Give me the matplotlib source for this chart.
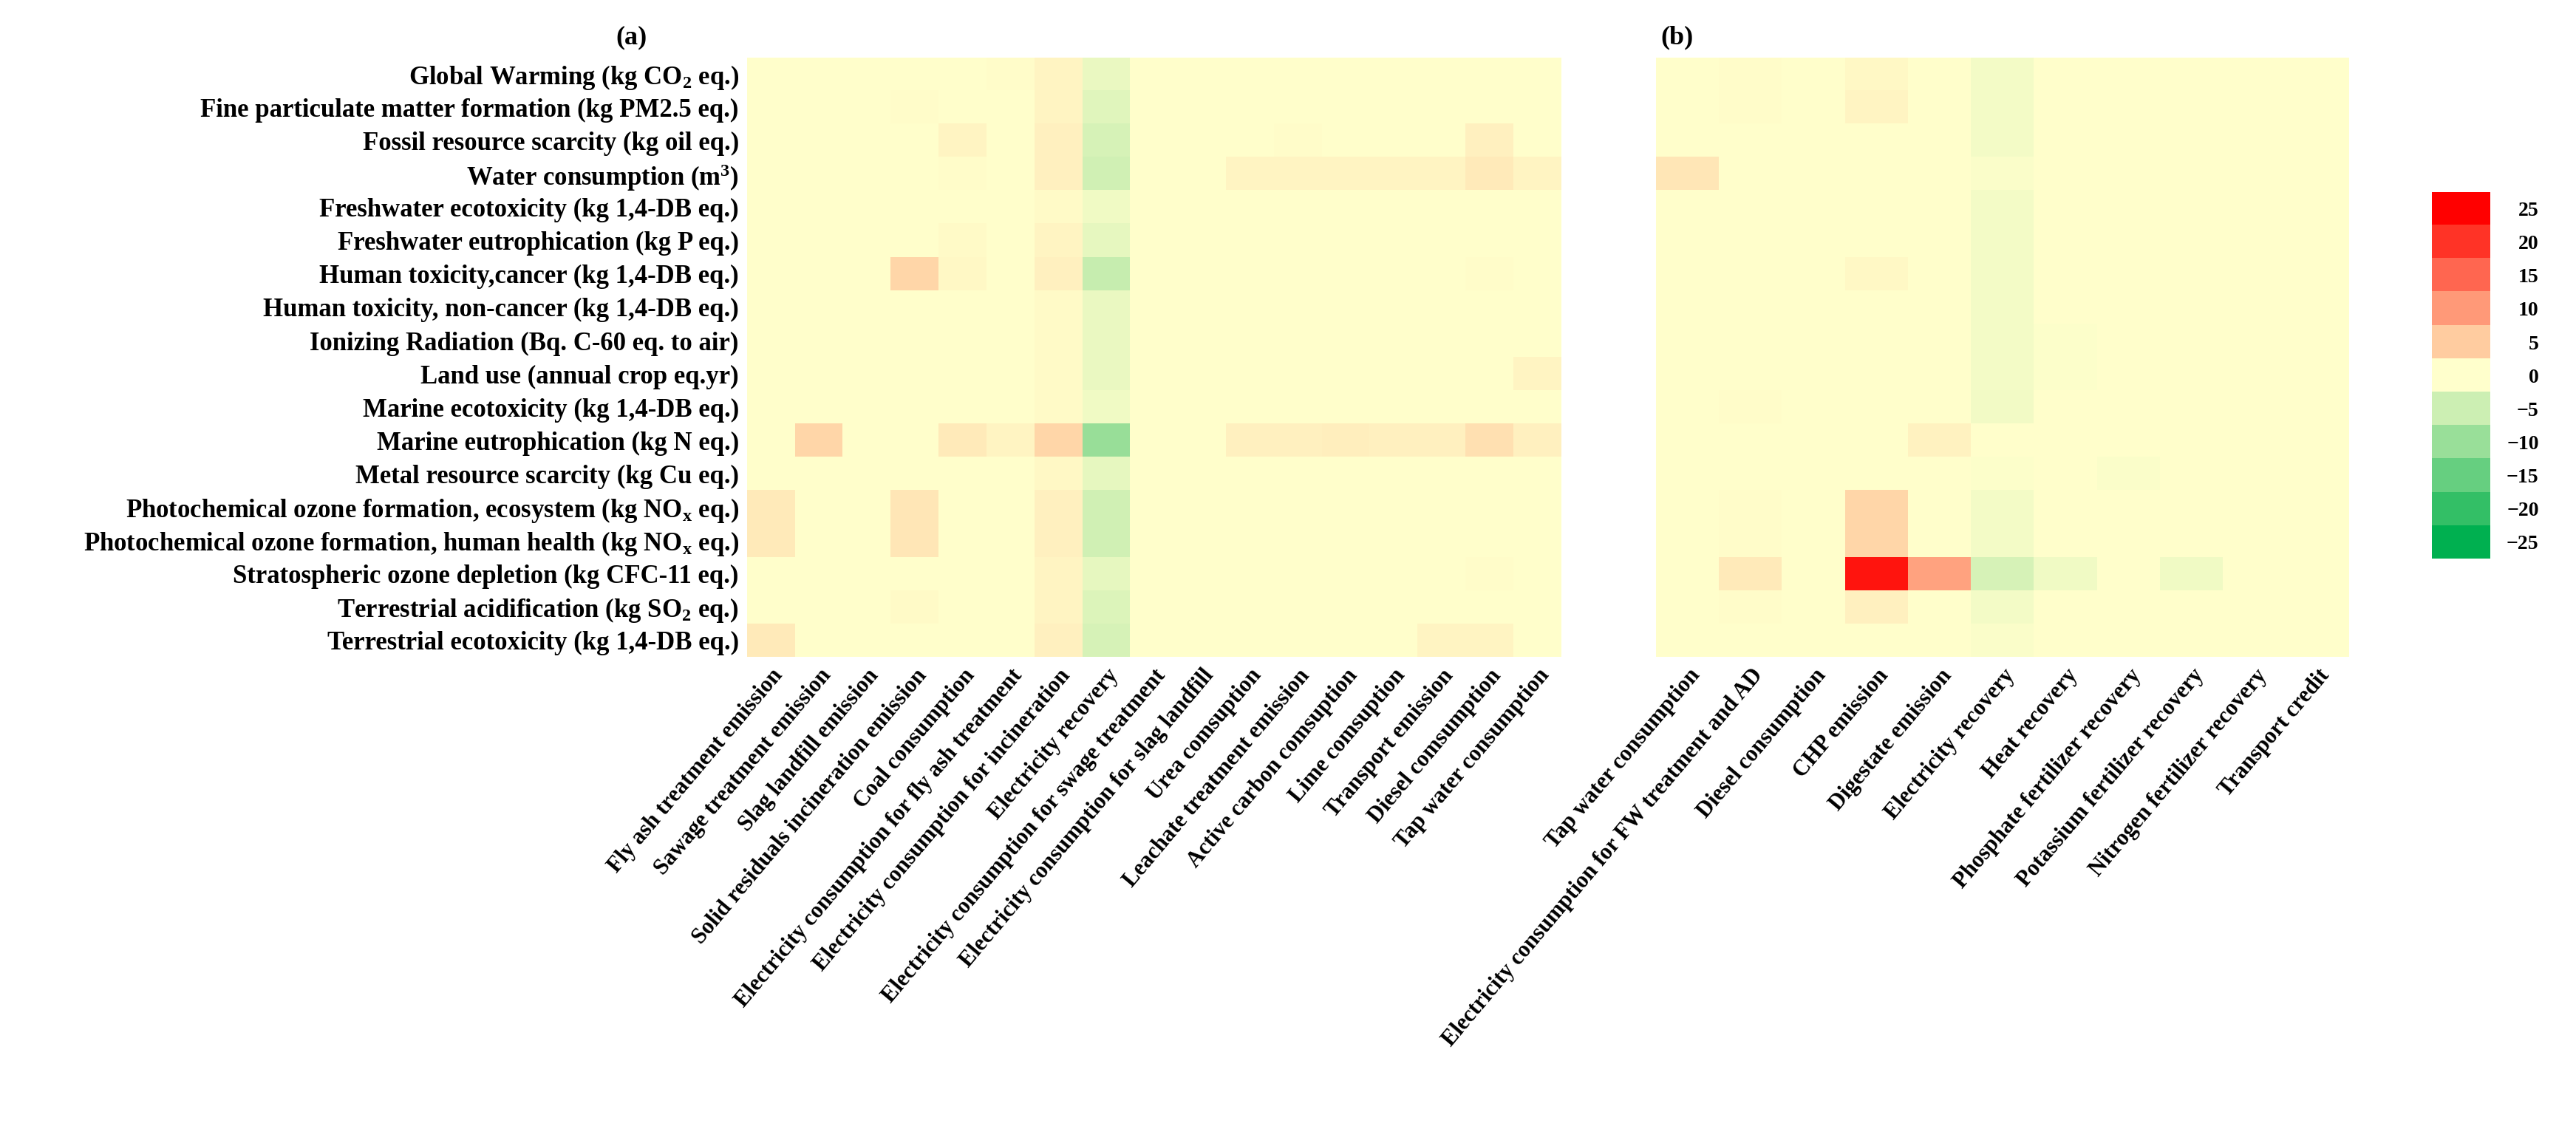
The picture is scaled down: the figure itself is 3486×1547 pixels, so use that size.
import numpy as np
import matplotlib
matplotlib.use('Agg')
import matplotlib.pyplot as plt
from matplotlib.colors import LinearSegmentedColormap, ListedColormap

plt.rcParams['font.family'] = ['Liberation Serif', 'DejaVu Serif']
plt.rcParams['font.weight'] = 'bold'
plt.rcParams['mathtext.fontset'] = 'custom'
plt.rcParams['mathtext.rm'] = 'Liberation Serif:bold'
plt.rcParams['mathtext.it'] = 'Liberation Serif:bold'

categories = ['Global Warming (kg CO$_2$ eq.)',
              'Fine particulate matter formation (kg PM2.5 eq.)',
              'Fossil resource scarcity (kg oil eq.)',
              'Water consumption (m$^3$)',
              'Freshwater ecotoxicity (kg 1,4-DB eq.)',
              'Freshwater eutrophication (kg P eq.)',
              'Human toxicity,cancer (kg 1,4-DB eq.)',
              'Human toxicity, non-cancer (kg 1,4-DB eq.)',
              'Ionizing Radiation (Bq. C-60 eq. to air)',
              'Land use (annual crop eq.yr)',
              'Marine ecotoxicity (kg 1,4-DB eq.)',
              'Marine eutrophication (kg N eq.)',
              'Metal resource scarcity (kg Cu eq.)',
              'Photochemical ozone formation, ecosystem (kg NO$_\\mathrm{x}$ eq.)',
              'Photochemical ozone formation, human health (kg NO$_\\mathrm{x}$ eq.)',
              'Stratospheric ozone depletion (kg CFC-11 eq.)',
              'Terrestrial acidification (kg SO$_2$ eq.)',
              'Terrestrial ecotoxicity (kg 1,4-DB eq.)']

cols_a = ['Fly ash treatment emission', 'Sawage treatment emission', 'Slag landfill emission',
          'Solid residuals incineration emission', 'Coal consumption',
          'Electricity consumption for fly ash treatment', 'Electricity consumption for incineration',
          'Electricity recovery', 'Electricity consumption for swage treatment',
          'Electricity consumption for slag landfill', 'Urea comsuption',
          'Leachate treatment emission', 'Active carbon comsuption', 'Lime comsuption',
          'Transport emission', 'Diesel comsumption', 'Tap water consumption']

cols_b = ['Tap water consumption', 'Electricity consumption for FW treatment and AD',
          'Diesel consumption', 'CHP emission', 'Digestate emission', 'Electricity recovery',
          'Heat recovery', 'Phosphate fertilizer recovery', 'Potassium fertilizer recovery',
          'Nitrogen fertilizer recovery', 'Transport credit']

#            0    1  2    3    4    5    6    7    8  9   10   11   12   13   14   15   16
values_a = [[0,   0, 0,   0,   0,   0.3, 1.0, -2.0, 0, 0, 0,   0,   0,   0,   0,   0,   0],
            [0,   0, 0,   0.3, 0,   0,   1.0, -3.0, 0, 0, 0,   0,   0,   0,   0,   0,   0],
            [0,   0, 0,   0,   1.0, 0,   1.5, -4.0, 0, 0, 0,   0.2, 0,   0,   0,   1.5, 0],
            [0,   0, 0,   0,   0.3, 0,   1.5, -4.5, 0, 0, 1.0, 1.0, 1.0, 1.0, 1.0, 2.0, 1.0],
            [0,   0, 0,   0,   0,   0,   0.5, -1.5, 0, 0, 0,   0,   0,   0,   0,   0,   0],
            [0,   0, 0,   0,   0.5, 0,   1.0, -2.5, 0, 0, 0,   0,   0,   0,   0,   0,   0],
            [0,   0, 0,   4.0, 0.7, 0,   1.5, -5.5, 0, 0, 0,   0,   0,   0,   0,   0.3, 0],
            [0,   0, 0,   0,   0,   0,   0.5, -2.0, 0, 0, 0,   0,   0,   0,   0,   0,   0],
            [0,   0, 0,   0,   0,   0,   0.5, -2.0, 0, 0, 0,   0,   0,   0,   0,   0,   0],
            [0,   0, 0,   0,   0,   0,   0.5, -2.0, 0, 0, 0,   0,   0,   0,   0,   0,   1.0],
            [0,   0, 0,   0,   0,   0,   0.5, -1.5, 0, 0, 0,   0,   0,   0,   0,   0,   0],
            [0,   4.0, 0, 0,   2.0, 1.0, 4.0, -10., 0, 0, 1.5, 1.5, 1.7, 1.5, 1.5, 3.0, 1.5],
            [0,   0, 0,   0,   0,   0,   0.7, -2.5, 0, 0, 0,   0,   0,   0,   0,   0,   0],
            [2.0, 0, 0,   2.5, 0,   0,   1.5, -4.5, 0, 0, 0,   0,   0,   0,   0,   0,   0],
            [2.0, 0, 0,   2.5, 0,   0,   1.5, -4.5, 0, 0, 0,   0,   0,   0,   0,   0,   0],
            [0,   0, 0,   0,   0,   0,   1.0, -2.5, 0, 0, 0,   0,   0,   0,   0,   0.3, 0],
            [0,   0, 0,   0.5, 0,   0,   1.0, -3.5, 0, 0, 0,   0,   0,   0,   0,   0,   0],
            [2.0, 0, 0,   0,   0,   0,   1.5, -4.0, 0, 0, 0,   0,   0,   0,   1.0, 1.0, 0]]

#            0    1    2  3     4    5     6     7     8     9  10
values_b = [[0,   0.2, 0, 0.7,  0,   -1.0, 0,    0,    0,    0, 0],
            [0,   0.2, 0, 1.0,  0,   -1.0, 0,    0,    0,    0, 0],
            [0,   0,   0, 0,    0,   -1.0, 0,    0,    0,    0, 0],
            [2.5, 0,   0, 0,    0,   -0.5, 0,    0,    0,    0, 0],
            [0,   0,   0, 0,    0,   -1.0, 0,    0,    0,    0, 0],
            [0,   0,   0, 0,    0,   -1.0, 0,    0,    0,    0, 0],
            [0,   0,   0, 0.7,  0,   -1.0, 0,    0,    0,    0, 0],
            [0,   0,   0, 0,    0,   -1.0, 0,    0,    0,    0, 0],
            [0,   0,   0, 0,    0,   -1.0, -0.3, 0,    0,    0, 0],
            [0,   0,   0, 0,    0,   -1.0, -0.3, 0,    0,    0, 0],
            [0,   0.3, 0, 0,    0,   -1.2, 0,    0,    0,    0, 0],
            [0,   0,   0, 0,    1.2, 0,    0,    0,    0,    0, 0],
            [0,   0,   0, 0,    0,   -0.3, 0,    -0.5, 0,    0, 0],
            [0,   0.3, 0, 4.0,  0,   -1.0, 0,    0,    0,    0, 0],
            [0,   0.3, 0, 4.0,  0,   -1.0, 0,    0,    0,    0, 0],
            [0,   2.0, 0, 23.0, 9.0, -4.0, -1.5, 0,    -1.5, 0, 0],
            [0,   0.3, 0, 1.5,  0,   -1.0, 0,    0,    0,    0, 0],
            [0,   0,   0, 0,    0,   -0.5, 0,    0,    0,    0, 0]]

levels = [25, 20, 15, 10, 5, 0, -5, -10, -15, -20, -25]
level_colors = ['#FF0000', '#FF3326', '#FF6650', '#FF9978', '#FFCCA0', '#FFFFCC',
                '#CCEFB3', '#99DF99', '#66CF80', '#33BF66', '#00B050']

cmap = LinearSegmentedColormap.from_list(
    'rg', [((v + 25) / 50.0, c) for v, c in zip(levels, level_colors)][::-1])

fig = plt.figure(figsize=(34.86, 15.47), dpi=100)
ax_a = fig.add_axes([0.290, 0.4253, 0.316, 0.5243])
ax_b = fig.add_axes([0.643, 0.4253, 0.269, 0.5243])
ax_c = fig.add_axes([0.944, 0.511, 0.0224, 0.321])

for ax, vals, cols in [(ax_a, values_a, cols_a), (ax_b, values_b, cols_b)]:
    ax.imshow(np.array(vals), cmap=cmap, vmin=-25, vmax=25, aspect='auto', interpolation='nearest')
    ax.set_xticks(range(len(cols)))
    ax.set_xticklabels(cols, rotation=50, ha='right', rotation_mode='anchor', fontsize=22, fontweight='bold')
    ax.set_yticks(range(len(categories)))
    ax.tick_params(length=0, pad=8)
    for s in ax.spines.values():
        s.set_visible(False)
ax_a.set_yticklabels(categories, fontsize=25, fontweight='bold')
ax_b.set_yticklabels([])

fig.text(0.245, 0.967, '(a)', fontsize=26, fontweight='bold', ha='center', va='center')
fig.text(0.651, 0.967, '(b)', fontsize=26, fontweight='bold', ha='center', va='center')

# discrete colour bar
ax_c.imshow(np.array(levels).reshape(-1, 1), cmap=ListedColormap(level_colors[::-1]),
            vmin=-27.5, vmax=27.5, aspect='auto', interpolation='nearest')
ax_c.set_xticks([])
ax_c.yaxis.tick_right()
ax_c.set_yticks(range(len(levels)))
ax_c.set_yticklabels([str(v).replace('-', '\u2212') for v in levels], fontsize=20, fontweight='bold')
ax_c.tick_params(length=0, pad=48)
for t in ax_c.get_yticklabels():
    t.set_ha('right')
for s in ax_c.spines.values():
    s.set_visible(False)

fig.savefig('out.png', dpi=100)
